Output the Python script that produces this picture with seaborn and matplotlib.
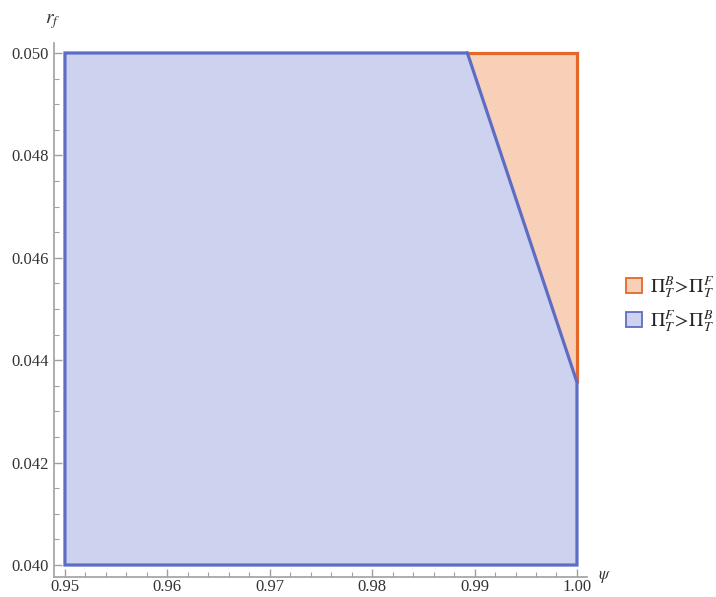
import matplotlib
matplotlib.use("Agg")
import matplotlib.pyplot as plt
import seaborn as sns
import numpy as np
from matplotlib.patches import Patch
from matplotlib.ticker import MultipleLocator, FormatStrFormatter

# ---- data ----
psi_range = [0.95, 1.00]
rf_range = [0.040, 0.050]
boundary_psi = [0.9893, 1.000]     # switching line psi values
boundary_rf = [0.0500, 0.04357]    # switching line r_f values
legend_labels = [r"$\Pi_T^B\!>\!\Pi_T^F$", r"$\Pi_T^F\!>\!\Pi_T^B$"]
x_ticks = [0.95, 0.96, 0.97, 0.98, 0.99, 1.00]
y_ticks = [0.040, 0.042, 0.044, 0.046, 0.048, 0.050]

blue_edge = "#5D6DC5"
blue_fill = "#CDD3EE"
orange_edge = "#E5682A"
orange_fill = "#F8D0B8"

sns.set_theme(style="white")
plt.rcParams["font.family"] = ["Liberation Serif", "DejaVu Serif"]
plt.rcParams["mathtext.fontset"] = "stix"

fig = plt.figure(figsize=(7.16, 5.97), dpi=100)
ax = fig.add_axes([54 / 716, 20 / 597, (587 - 54) / 716, (577 - 43) / 597])

x0, x1 = psi_range
y0, y1 = rf_range
bx0, bx1 = boundary_psi
by0, by1 = boundary_rf

# blue region
ax.fill_between([x0, bx0, bx1], [y0, y0, y0], [y1, by0, by1],
                color=blue_fill, linewidth=0, zorder=1)
# orange region
ax.fill_between([bx0, bx1], [by0, by1], [y1, y1],
                color=orange_fill, linewidth=0, zorder=1)

# orange edges
ax.plot([bx0, x1, x1], [y1, y1, by1], color=orange_edge, lw=2.3,
        solid_joinstyle="miter", zorder=2)
# blue edges
ax.plot([bx0, x0, x0, x1, x1, bx0], [y1, y1, y0, y0, by1, by0],
        color=blue_edge, lw=2.3, solid_joinstyle="miter", zorder=3)

ax.set_xlim(0.94893, 1.00098)
ax.set_ylim(0.039766, 0.050195)

ax.set_xticks(x_ticks)
ax.set_yticks(y_ticks)
ax.xaxis.set_major_formatter(FormatStrFormatter("%.2f"))
ax.yaxis.set_major_formatter(FormatStrFormatter("%.3f"))
ax.xaxis.set_minor_locator(MultipleLocator(0.002))
ax.yaxis.set_minor_locator(MultipleLocator(0.0005))

for s in ["top", "right"]:
    ax.spines[s].set_visible(False)
for s in ["left", "bottom"]:
    ax.spines[s].set_color("#A0A0A0")
    ax.spines[s].set_linewidth(1.2)

ax.tick_params(which="major", direction="in", length=6, width=1, color="#A0A0A0",
               labelsize=12, labelcolor="#333333", bottom=True, left=True)
ax.tick_params(axis="y", which="major", pad=4)
ax.tick_params(axis="x", which="major", pad=1.5)
ax.tick_params(which="minor", direction="in", length=3.5, width=0.8, color="#A0A0A0",
               bottom=True, left=True)

fig.text(53 / 716, 1 - 22 / 597, r"$r_f$", fontsize=14, color="#333333",
         ha="center", va="center")
fig.text(605 / 716, 1 - 577 / 597, r"$\psi$", fontsize=12, color="#333333",
         ha="center", va="center")

handles = [Patch(facecolor=orange_fill, edgecolor=orange_edge, linewidth=1.3),
           Patch(facecolor=blue_fill, edgecolor=blue_edge, linewidth=1.3)]
fig.legend(handles, legend_labels, loc="center left",
           bbox_to_anchor=(626 / 716, 1 - 304 / 597), frameon=False,
           fontsize=14.3, handlelength=0.8, handleheight=0.8, handletextpad=0.4,
           labelspacing=0.45, borderpad=0, borderaxespad=0)

fig.savefig("out.png", dpi=100)
